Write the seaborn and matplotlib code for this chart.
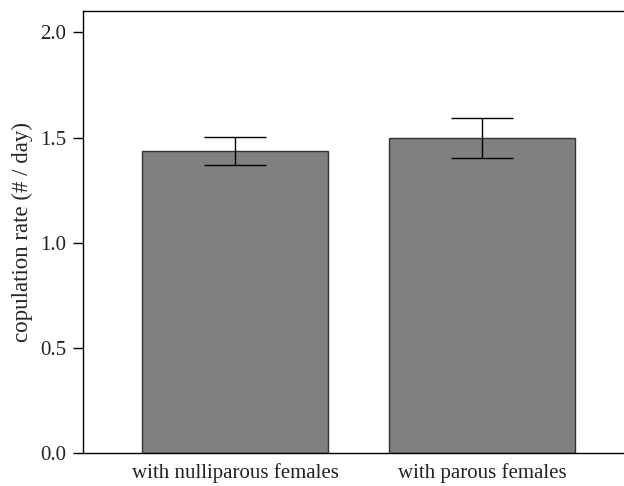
import matplotlib
matplotlib.use("Agg")
import matplotlib.pyplot as plt
import seaborn as sns
import pandas as pd

categories = ["with nulliparous females", "with parous females"]
means = [1.436, 1.50]
err_low = [1.368, 1.405]
err_high = [1.505, 1.592]

sns.set_style("ticks")
plt.rcParams['font.family'] = ['Liberation Serif', 'DejaVu Serif']

df = pd.DataFrame({"cat": categories, "rate": means})

fig = plt.figure(figsize=(6.24, 4.86), dpi=100)
ax = fig.add_axes([0.1335, 0.0672, 0.8665, 0.9095])
sns.barplot(data=df, x="cat", y="rate", color="#808080", saturation=1,
            edgecolor="#333333", linewidth=1.0, width=0.75, errorbar=None, ax=ax)
for i, (m, lo, hi) in enumerate(zip(means, err_low, err_high)):
    ax.errorbar(i, m, yerr=[[m - lo], [hi - m]], color="black", lw=1.0,
                capsize=22, capthick=1.0, fmt="none")

ax.set_ylim(0, 2.1)
ax.set_xlim(-0.614, 1.575)
ax.set_yticks([0.0, 0.5, 1.0, 1.5, 2.0])
ax.set_yticklabels(["0.0", "0.5", "1.0", "1.5", "2.0"])
ax.set_xlabel("")
ax.set_ylabel("copulation rate (# / day)", fontsize=16.5, labelpad=5)
ax.tick_params(axis="y", labelsize=15, length=7.5, width=1, pad=5, color="black", labelcolor="#222222")
ax.tick_params(axis="x", labelsize=15, length=0, pad=7, labelcolor="#222222")
for s in ["left", "top", "bottom"]:
    ax.spines[s].set_visible(True)
    ax.spines[s].set_color("black")
    ax.spines[s].set_linewidth(1.0)
ax.spines["right"].set_visible(False)

fig.savefig("out.png", dpi=100)
